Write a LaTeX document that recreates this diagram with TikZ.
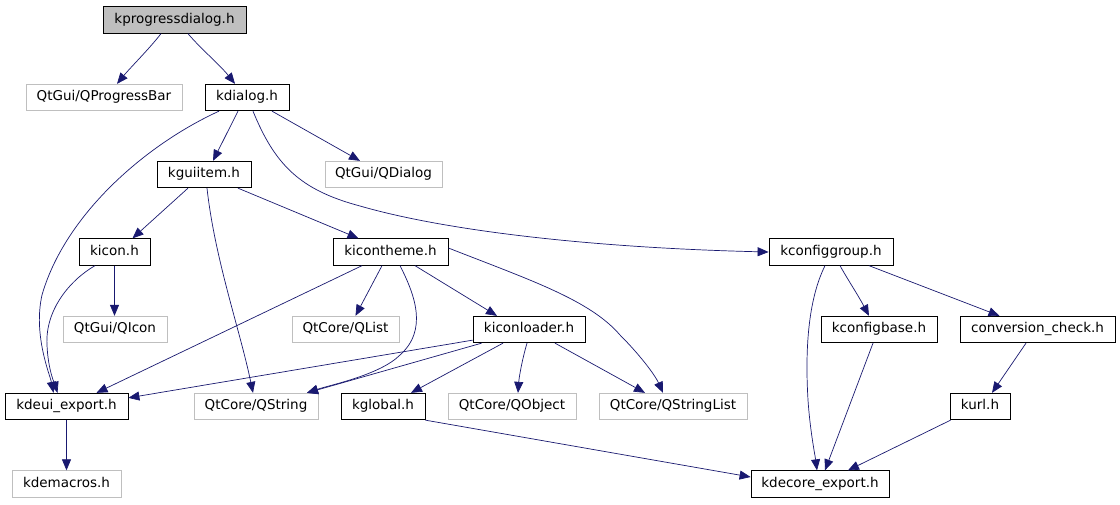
\documentclass[tikz,border=0pt]{standalone}
\usepackage{fontspec}
\setmainfont{DejaVu Sans}
\usetikzlibrary{arrows.meta,calc}
\definecolor{edgecol}{HTML}{191970}
\definecolor{graybox}{HTML}{BFBFBF}
\tikzset{
  box/.style={draw=black, line width=0.8pt, inner sep=0pt, minimum height=26.5pt,
    text height=10.1pt, text depth=3.2pt, font=\fontsize{13.5}{16}\selectfont},
  ext/.style={box, draw=graybox},
  root/.style={box, fill=graybox},
  edge/.style={draw=edgecol, line width=0.7pt, -{Triangle[length=11pt,width=9pt]}}
}
\begin{document}
\begin{tikzpicture}[x=1pt,y=-1pt]
\useasboundingbox[fill=white] (0,0) rectangle (1120,504);
% nodes
\node[root, minimum width=143pt] (kpd) at (174.5,20) {kprogressdialog.h};
\node[ext, minimum width=156pt] (qpb) at (104,97.5) {QtGui/QProgressBar};
\node[box, minimum width=84pt] (kdialog) at (247,97.5) {kdialog.h};
\node[box, minimum width=94pt] (kguiitem) at (204,174.5) {kguiitem.h};
\node[ext, minimum width=117pt] (qdialog) at (383.5,174.5) {QtGui/QDialog};
\node[box, minimum width=71pt] (kicon) at (114.5,252) {kicon.h};
\node[box, minimum width=115pt] (kicontheme) at (390.5,252) {kicontheme.h};
\node[box, minimum width=124pt] (kconfiggroup) at (831,252) {kconfiggroup.h};
\node[ext, minimum width=104pt] (qicon) at (115,329.5) {QtGui/QIcon};
\node[ext, minimum width=107pt] (qlist) at (345.5,329.5) {QtCore/QList};
\node[box, minimum width=112pt] (kiconloader) at (529,329.5) {kiconloader.h};
\node[box, minimum width=116pt] (kconfigbase) at (879,329.5) {kconfigbase.h};
\node[box, minimum width=155pt] (conversion) at (1037.5,329.5) {conversion\_check.h};
\node[box, minimum width=123pt] (kdeui) at (66.5,406.5) {kdeui\_export.h};
\node[ext, minimum width=124pt] (qstring) at (256,406.5) {QtCore/QString};
\node[box, minimum width=84pt] (kglobal) at (383,406.5) {kglobal.h};
\node[ext, minimum width=128pt] (qobject) at (512,406.5) {QtCore/QObject};
\node[ext, minimum width=148pt] (qstringlist) at (673,406.5) {QtCore/QStringList};
\node[box, minimum width=60pt] (kurl) at (980,406.5) {kurl.h};
\node[ext, minimum width=109pt] (kdemacros) at (66.5,484) {kdemacros.h};
\node[box, minimum width=138pt] (kdecore) at (820,484) {kdecore\_export.h};
% edges
\draw[edge] ([xshift=-13.5pt]kpd.south) .. controls (150,48) and (130,68) .. ([xshift=13pt]qpb.north);
\draw[edge] ([xshift=13.5pt]kpd.south) .. controls (200,48) and (220,65) .. ([xshift=-12pt]kdialog.north);
\draw[edge] ([xshift=-9pt]kdialog.south) -- ([xshift=9pt]kguiitem.north);
\draw[edge] ([xshift=25pt]kdialog.south) -- ([xshift=-23.5pt]qdialog.north);
\draw[edge] ([xshift=-28pt]kdialog.south) .. controls (145,145) and (65,215) .. (42,295) .. controls (33,335) and (50,375) .. ([xshift=-13pt]kdeui.north);
\draw[edge] ([xshift=6pt]kdialog.south) .. controls (275,165) and (300,190) .. (360,206) .. controls (450,232) and (600,248) .. (kconfiggroup.west);
\draw[edge] ([xshift=-16pt]kguiitem.south) -- ([xshift=18pt]kicon.north);
\draw[edge] ([xshift=3pt]kguiitem.south) .. controls (215,260) and (240,330) .. ([xshift=-3pt]qstring.north);
\draw[edge] ([xshift=34pt]kguiitem.south) -- ([xshift=-32pt]kicontheme.north);
\draw[edge] (kicon.south) -- (kicon.south |- qicon.north);
\draw[edge] ([xshift=-19.5pt]kicon.south) .. controls (70,280) and (45,310) .. (47,345) .. controls (48,370) and (55,385) .. ([xshift=-9pt]kdeui.north);
\draw[edge] ([xshift=-28.5pt]kicontheme.south) -- ([xshift=30pt]kdeui.north);
\draw[edge] ([xshift=-8.5pt]kicontheme.south) -- ([xshift=10pt]qlist.north);
\draw[edge] ([xshift=9.5pt]kicontheme.south) .. controls (415,295) and (428,330) .. (400,355) .. controls (380,375) and (330,385) .. ([xshift=51pt]qstring.north);
\draw[edge] ([xshift=24.5pt]kicontheme.south) -- ([xshift=-32pt]kiconloader.north);
\draw[edge] ([yshift=4pt]kicontheme.east) .. controls (530,280) and (590,300) .. (620,335) .. controls (640,355) and (655,375) .. ([xshift=-10pt]qstringlist.north);
\draw[edge] ([yshift=3pt]kiconloader.south west) -- ([yshift=-5pt]kdeui.north east);
\draw[edge] ([xshift=9pt]kiconloader.south west) -- ([xshift=51pt]qstring.north);
\draw[edge] ([xshift=-26pt]kiconloader.south) -- ([xshift=28pt]kglobal.north);
\draw[edge] ([xshift=-2pt]kiconloader.south) .. controls (522,360) and (519,378) .. ([xshift=6pt]qobject.north);
\draw[edge] ([xshift=26pt]kiconloader.south) -- ([xshift=-28pt]qstringlist.north);
\draw[edge] ([xshift=-6pt]kconfiggroup.south) .. controls (808,300) and (805,350) .. (808,400) .. controls (810,430) and (815,455) .. ([xshift=-3pt]kdecore.north);
\draw[edge] ([xshift=9pt]kconfiggroup.south) .. controls (848,280) and (858,295) .. ([xshift=-10pt]kconfigbase.north);
\draw[edge] ([xshift=38pt]kconfiggroup.south) -- ([xshift=-38pt]conversion.north);
\draw[edge] ([xshift=-6pt]kconfigbase.south) -- ([xshift=5pt]kdecore.north);
\draw[edge] ([xshift=-11.5pt]conversion.south) -- ([xshift=12pt]kurl.north);
\draw[edge] ([xshift=1pt]kurl.south west) -- ([xshift=28pt]kdecore.north);
\draw[edge] (kglobal.south east) -- ([yshift=7pt]kdecore.west);
\draw[edge] (kdeui.south) -- (kdeui.south |- kdemacros.north);
\end{tikzpicture}
\end{document}
